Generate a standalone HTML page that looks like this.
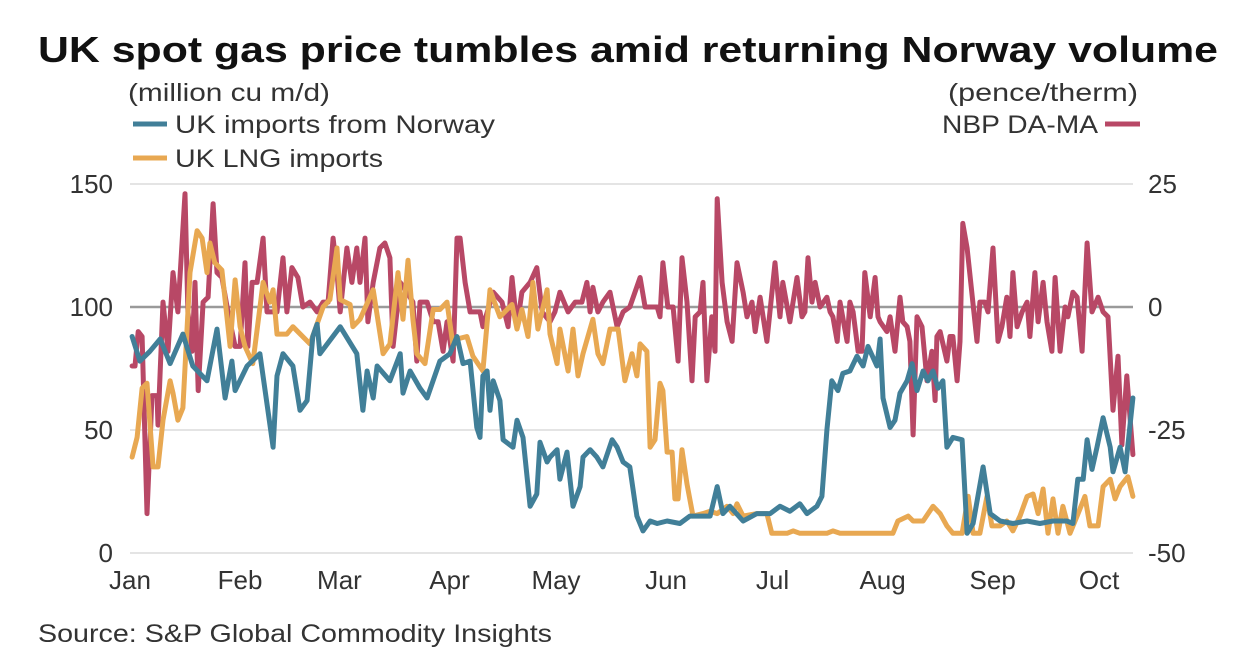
<!DOCTYPE html>
<html><head><meta charset="utf-8"><style>
html,body{margin:0;padding:0;background:#fff;}
svg{display:block;font-family:"Liberation Sans",sans-serif;}
</style></head><body>
<svg id="chart" width="1250" height="670" viewBox="0 0 1250 670">
<text x="38" y="62" font-size="36" font-weight="bold" fill="#111" textLength="1180" lengthAdjust="spacingAndGlyphs">UK spot gas price tumbles amid returning Norway volume</text>
<text x="128" y="101" font-size="25" fill="#333" textLength="202" lengthAdjust="spacingAndGlyphs">(million cu m/d)</text>
<text x="948" y="101" font-size="25" fill="#333" textLength="190" lengthAdjust="spacingAndGlyphs">(pence/therm)</text>
<g><line x1="133" y1="124" x2="167" y2="124" stroke="#417f98" stroke-width="5"/><text x="175" y="133" font-size="25" fill="#333" textLength="320" lengthAdjust="spacingAndGlyphs">UK imports from Norway</text></g>
<g><line x1="133" y1="158" x2="167" y2="158" stroke="#e8a852" stroke-width="5"/><text x="175" y="167" font-size="25" fill="#333" textLength="208" lengthAdjust="spacingAndGlyphs">UK LNG imports</text></g>
<g><line x1="1105" y1="124" x2="1140" y2="124" stroke="#b84866" stroke-width="5"/><text x="942" y="133" font-size="25" fill="#333" textLength="156" lengthAdjust="spacingAndGlyphs">NBP DA-MA</text></g>
<g id="grid"></g>
<g id="axes"></g>
<g id="series"></g>
<text x="38" y="642" font-size="25" fill="#333" textLength="514" lengthAdjust="spacingAndGlyphs">Source: S&amp;P Global Commodity Insights</text>
</svg>
<script>
const monthLabels=["Jan","Feb","Mar","Apr","May","Jun","Jul","Aug","Sep","Oct"];
const monthDays=[0,31,59,90,120,151,181,212,243,273];
const leftTicks=[0,50,100,150];
const rightTicks=[-50,-25,0,25];
const norwayDays=[0.6,2.8,5.6,8.5,11.3,14.9,17.7,21.7,24.5,26.8,28.7,29.6,33,36.6,40.3,41.4,43.1,45.9,47.9,49.9,51.5,52.7,53.5,59.2,63.9,65.6,66.8,68.5,69.6,73.2,76.1,76.9,78.9,81.7,83.7,87.3,90.1,92.1,93.8,95.8,97.7,98.6,99.4,100.6,101.4,102.3,104.2,105.1,107.9,109,110.7,112.7,114.6,115.5,117.5,118.3,120.3,121.1,123.1,124.8,126.8,127.6,129.6,131.5,133.2,135.8,137.2,138.9,140.8,142.8,144.5,146.5,148.5,151.3,154.9,157.7,163.4,165.4,167,169,172.7,176.6,180.3,183.1,185.9,188.7,190.7,193.5,194.9,196.3,197.7,199.4,200.8,202.8,204.8,206.5,207.9,210.4,211.3,212.1,214.1,215.5,216.9,218.9,220.3,221.7,223.4,224.8,226.2,227.6,229,230.1,231.8,234.4,235.8,237.5,240.3,242.3,245.1,248.7,252.7,256.3,260,263.9,265.6,267,268.5,269.6,271,272.4,274.1,276.1,276.9,278.9,280.3,282.5];
const norwayValues=[88,78,82,87,77,89,76,70,91,63,78,66,76,81,43,72,81,76,58,62,88,93,81,92,81,58,74,63,76,70,81,65,74,67,63,78,81,88,77,78,51,47,72,74,58,70,62,46,43,54,47,19,24,45,37,39,42,30,41,19,27,39,42,39,35,46,43,37,35,15,9,13,12,13,12,15,15,27,16,19,13,16,16,19,17,20,16,19,23,50,70,66,73,74,80,76,84,76,87,63,51,54,65,70,77,66,74,70,74,67,70,43,47,46,8,12,35,16,13,12,13,12,13,13,12,30,30,46,34,43,55,43,33,43,33,63];
const lngDays=[0.6,2,3.4,4.8,6.5,7.9,9.3,11.3,12.1,13.5,14.9,16.9,18.9,20.3,21.7,22.5,23.9,25.9,28.2,29.6,31,32.4,34.6,37.5,39.4,40.3,41.4,44.2,45.9,50.7,54.4,56.3,58.3,59.2,62,62.8,64.8,68.5,71.3,73.2,75.5,76.9,78.3,79.7,80.8,83.1,85.4,87.3,89.3,91,92.1,94.9,96.6,99.4,101.4,104.2,107.6,109,110.4,112.1,113.5,114.9,117.5,118.3,120.3,121.1,123.4,124.8,126.2,127.6,130.4,131.8,133.2,135.2,137.5,139.4,141.4,142.8,143.7,145.6,146.5,147.9,149.3,150.1,151.3,152.7,153.5,154.4,155.5,156.9,158.6,161.4,163.4,165.4,168.2,169.9,171,172.7,176.6,179.4,180.8,185.1,186.8,188.7,196.3,198,200,214.9,216.3,219.2,220.6,223.4,226.2,228.2,230.1,231.8,234.4,236.1,237.5,239.4,241.4,242.8,245.1,247,248.7,250.7,252.7,254.4,255.8,257.2,258.6,260,261.4,262.8,264.8,266.8,269,270.4,272.7,274.1,276.1,277.5,278.9,281.1,282.5];
const lngValues=[39,47,67,69,35,35,54,70,65,54,59,114,131,128,114,126,118,115,84,111,92,84,77,110,102,107,89,89,92,85,100,103,124,103,101,92,95,107,81,85,114,95,119,95,81,77,99,99,102,84,87,88,80,74,107,96,101,91,99,88,110,91,107,89,77,91,74,91,72,81,95,81,77,91,91,70,81,72,85,82,43,46,69,66,41,41,22,22,42,28,15,16,17,16,19,16,20,15,16,16,8,8,9,8,8,9,8,8,13,15,13,13,19,16,11,8,8,23,8,8,23,11,11,13,9,15,23,24,16,26,8,22,8,19,8,15,23,11,11,27,30,22,27,31,23];
const nbpDays=[0.6,1.4,2.3,3.4,4.8,6.2,7.6,7.9,9.3,10.7,12.1,13.5,15.5,16.3,17.5,18.3,19.2,20.6,22,23.4,24.5,25.9,27.6,29.6,31,32.4,33.2,34.4,35.8,37.5,38.6,41.4,43.1,44.2,45.6,47.3,48.7,50.7,52.7,54.4,55.8,57.2,58.3,59.2,61.1,62.5,63.9,64.8,66.2,67,68.5,70.4,71.8,73.2,74.1,76.1,78,79.7,80.8,81.7,83.7,85.4,86.8,88.2,89.3,91,92.1,93,94.4,95.8,98.6,99.4,102.3,104.8,106.5,107.6,109,110.4,112.7,114.6,116.1,118.3,119.7,121.1,123.4,125.4,127.3,128.7,129.6,130.4,131.8,133.2,135.2,137.2,138.9,140.8,143.7,145.1,148.5,149.3,150.1,151.5,153,154.4,155.5,156.9,158.3,159.2,160.6,161.4,162.5,163.9,164.8,165.4,166.8,168.2,169.6,171,172.7,173.8,175.2,176.1,177.5,179.4,181.7,183.1,183.9,185.9,187.9,189.3,190.1,191,192.1,193,194.4,196.3,197.2,198,199.2,200,202,202.8,203.7,205.1,206.2,207,208.5,209.9,210.7,211.3,213.2,214.1,215.5,216.9,217.7,218.9,219.7,220.6,221.7,223.1,224.5,225.9,226.8,227.3,228.2,230.1,231,231.8,233,233.8,234.6,235.8,238.6,239.4,240.8,241.7,243.1,244.5,245.6,247,247.9,248.7,249.9,251.3,252.7,253.5,254.9,255.8,257.2,258.3,259.7,260.6,262,263.4,264.2,265.6,266.8,268.2,269.6,271,272.7,274.1,275.5,276.9,278.3,279.4,280.8,282.5];
const nbpValues=[-12,-12,-5,-6,-42,-18,-18,-24,1,-9,7,-1,23,-1,-9,5,-17,1,2,21,7,6,-1,-8,-8,9,-8,5,5,14,-1,-1,10,-1,8,6,0,1,-1,1,1,14,7,-1,12,5,12,5,14,-3,5,12,13,10,-8,5,3,1,-11,1,1,-3,-3,-9,-3,-11,14,14,5,-1,-1,-4,3,1,-4,6,-4,3,5,8,-1,-3,-1,3,-1,1,1,5,-1,4,-1,1,3,-4,-1,0,6,0,0,-2,9,0,0,-11,10,1,-15,-2,-1,5,-15,-2,-9,22,5,-3,-7,9,3,-2,1,-5,2,-7,9,-2,5,-3,6,-2,-1,10,1,5,0,2,-1,-2,-7,1,-7,1,-1,-9,-9,7,-2,6,-2,-3,-5,-2,-9,2,-3,-4,-7,-26,-2,-4,-15,-9,-19,-6,-5,-11,-6,-6,-15,-7,17,12,-7,1,1,-1,12,-7,-4,2,-6,7,-4,-1,1,-6,7,-3,5,-3,-9,6,-9,0,-2,3,2,-9,13,-1,2,-1,-2,-21,-10,-28,-14,-30,-4,-3];

const NS="http://www.w3.org/2000/svg";
const X0=130,X1=1133;
function xScale(d){return X0+d*3.55;}
function yLeft(v){return 553-v*(553-184)/150;}
function yRight(v){return 307-v*(307-184)/25;}
const grid=document.getElementById('grid'),axes=document.getElementById('axes'),series=document.getElementById('series');
function mk(tag,attrs,parent){const e=document.createElementNS(NS,tag);for(const k in attrs)e.setAttribute(k,attrs[k]);parent.appendChild(e);return e;}
leftTicks.forEach(function(v){
  const g=mk('line',{x1:X0,x2:X1,y1:yLeft(v),y2:yLeft(v),stroke:v===100?'#9a9a9a':'#dcdcdc','stroke-width':v===100?2.5:1.5},grid);
  
  
  const t=mk('text',{x:113,y:yLeft(v)+9,'font-size':26,fill:'#333','text-anchor':'end'},axes);
  t.textContent=v;
  
  
});
rightTicks.forEach(function(v){
  const t=mk('text',{x:1148,y:yRight(v)+9,'font-size':26,fill:'#333'},axes);
  t.textContent=v;
  
  
});
monthLabels.forEach(function(m,i){
  const t=mk('text',{x:xScale(monthDays[i]),y:589,'font-size':26,fill:'#333','text-anchor':'middle'},axes);
  t.textContent=m;
  
  
});
function drawLine(days,vals,yf,color,name){
  const pts=days.map(function(d,i){return xScale(d).toFixed(1)+','+yf(vals[i]).toFixed(1);}).join(' ');
  const p=mk('polyline',{points:pts,fill:'none',stroke:color,'stroke-width':5,'stroke-linejoin':'round','stroke-linecap':'round'},series);
  
  
}
drawLine(nbpDays,nbpValues,yRight,'#b84866','nbp-line');
drawLine(lngDays,lngValues,yLeft,'#e8a852','lng-imports-line');
drawLine(norwayDays,norwayValues,yLeft,'#417f98','norway-imports-line');
</script>
</body></html>
